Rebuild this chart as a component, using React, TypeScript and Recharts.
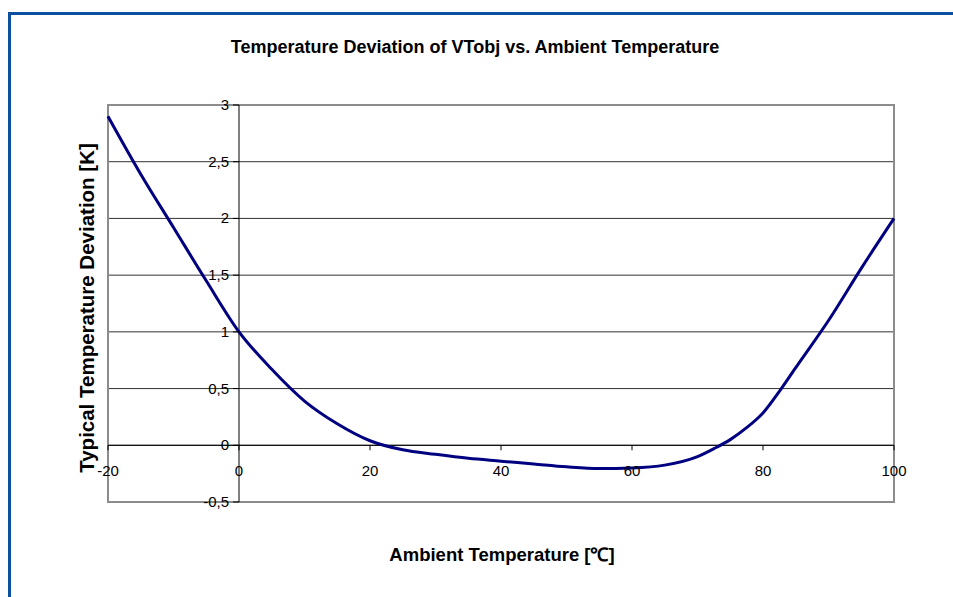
import React from 'react';
import { LineChart, Line, XAxis, YAxis, CartesianGrid, ReferenceLine, ReferenceArea } from 'recharts';

// ambient temperature [°C] and the typical deviation [K]
const temps = [-20, -15, -10, -5, 0, 5, 10, 15, 20, 25, 30, 35, 40, 45, 50, 55, 60, 65, 70, 72.5, 75, 77.5, 80, 82.5, 85, 90, 95, 100];
const deviation = [2.9, 2.39, 1.92, 1.45, 1.0, 0.67, 0.39, 0.19, 0.04, -0.04, -0.08, -0.115, -0.14, -0.165, -0.19, -0.205, -0.2, -0.175, -0.1, -0.03, 0.05, 0.155, 0.285, 0.475, 0.685, 1.1, 1.56, 2.0];
const xTicks = [-20, 0, 20, 40, 60, 80, 100];
const yTicks = [-0.5, 0, 0.5, 1, 1.5, 2, 2.5, 3];

const X_DOMAIN: [number, number] = [-20, 100];
const Y_DOMAIN: [number, number] = [-0.5, 3];

const W = 953;
const H = 597;
const MARGIN = { top: 105, right: 59, bottom: 94, left: 107 };
const PLOT_LEFT = 108;
const PLOT_W = 894 - PLOT_LEFT;
const PLOT_TOP = 105;
const PLOT_H = 502 - PLOT_TOP;
// where the axes cross (x = 0, y = 0) in pixels
const AXIS_X = PLOT_LEFT + (PLOT_W * (0 - X_DOMAIN[0])) / (X_DOMAIN[1] - X_DOMAIN[0]);
const AXIS_Y = PLOT_TOP + (PLOT_H * (Y_DOMAIN[1] - 0)) / (Y_DOMAIN[1] - Y_DOMAIN[0]);

const FONT = '"Liberation Sans", Arial, sans-serif';
const data = temps.map((t, i) => ({ t, dev: deviation[i] }));

const fmt = (v: number) => String(v).replace('.', ',');

const renderXTick = (props: any) => {
  const { x, payload } = props;
  return (
    <g key={`xt-${payload.value}`}>
      <line x1={x} y1={AXIS_Y} x2={x} y2={AXIS_Y + 5} stroke="#000" />
      <text x={x} y={AXIS_Y + 31} textAnchor="middle" fontSize={15} fontFamily={FONT} fill="#000">
        {payload.value}
      </text>
    </g>
  );
};

const renderYTick = (props: any) => {
  const { y, payload } = props;
  return (
    <g key={`yt-${payload.value}`}>
      <line x1={AXIS_X - 6} y1={y} x2={AXIS_X} y2={y} stroke="#000" />
      <text x={AXIS_X - 10} y={y + 5} textAnchor="end" fontSize={15} fontFamily={FONT} fill="#000">
        {fmt(payload.value)}
      </text>
    </g>
  );
};

export default function App() {
  return (
    <div style={{ position: 'absolute', left: 0, top: 0, width: W, height: H, overflow: 'hidden', background: '#fff' }}>
      <div
        style={{
          position: 'absolute', left: 8, top: 12, width: 1100, height: 800,
          border: '3px solid #0a4fa0', boxSizing: 'border-box',
        }}
      />
      <div
        style={{
          position: 'absolute', left: 0, top: 37, width: 950, textAlign: 'center',
          fontFamily: FONT, fontWeight: 'bold', fontSize: 18, color: '#000',
        }}
      >
        Temperature Deviation of VTobj vs. Ambient Temperature
      </div>
      <div
        style={{
          position: 'absolute', left: 0, top: 541, width: 1004, textAlign: 'center',
          fontFamily: FONT, fontWeight: 'bold', fontSize: 18.5, color: '#000',
        }}
      >
        Ambient Temperature [℃]
      </div>
      <div style={{ position: 'absolute', left: 87, top: 308, width: 0, height: 0 }}>
        <div
          style={{
            position: 'absolute', left: -200, top: -12, width: 400, textAlign: 'center',
            transform: 'rotate(-90deg)', fontFamily: FONT, fontWeight: 'bold', fontSize: 20.5,
            color: '#000', whiteSpace: 'nowrap',
          }}
        >
          Typical Temperature Deviation [K]
        </div>
      </div>
      <div style={{ position: 'absolute', left: 0, top: 0 }}>
        <LineChart width={W} height={H} data={data} margin={MARGIN}>
          <CartesianGrid vertical={false} stroke="#333" horizontalValues={yTicks} />
          <XAxis
            dataKey="t"
            type="number"
            domain={X_DOMAIN}
            ticks={xTicks}
            height={1}
            axisLine={false}
            tickLine={false}
            tick={renderXTick}
            interval={0}
          />
          <YAxis
            type="number"
            domain={Y_DOMAIN}
            ticks={yTicks}
            width={1}
            axisLine={false}
            tickLine={false}
            tick={renderYTick}
            interval={0}
          />
          <ReferenceArea
            x1={X_DOMAIN[0]} x2={X_DOMAIN[1]} y1={Y_DOMAIN[0]} y2={Y_DOMAIN[1]}
            fill="none" fillOpacity={0} stroke="#8c8c8c" strokeWidth={2} strokeOpacity={1}
          />
          <ReferenceLine y={0} stroke="#000" strokeWidth={1} />
          <ReferenceLine x={0} stroke="#000" strokeWidth={1} />
          <Line
            type="monotoneX"
            dataKey="dev"
            stroke="#000080"
            strokeWidth={3}
            dot={false}
            isAnimationActive={false}
          />
        </LineChart>
      </div>
    </div>
  );
}
